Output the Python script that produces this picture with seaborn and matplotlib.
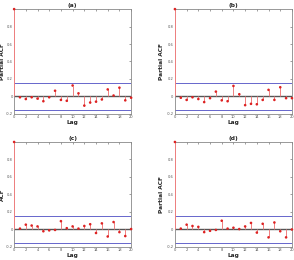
import numpy as np
import pandas as pd
import seaborn as sns
import matplotlib
matplotlib.use("Agg")
import matplotlib.pyplot as plt

# valores (lag 0 = 1)
lags = list(range(0, 21))
pacf_a = [1.0, -0.01, -0.03, -0.01, -0.025, -0.055, -0.01, 0.065, -0.04, -0.05, 0.125,
          0.035, -0.105, -0.07, -0.06, -0.035, 0.08, 0.01, 0.10, -0.045, -0.015]
pacf_b = [1.0, -0.015, -0.04, -0.01, -0.03, -0.065, -0.02, 0.055, -0.045, -0.055, 0.12,
          0.025, -0.10, -0.085, -0.09, -0.04, 0.075, -0.04, 0.105, -0.02, -0.02]
acf_c = [1.0, 0.01, 0.055, 0.045, 0.035, -0.02, -0.01, -0.005, 0.095, 0.015, 0.035,
         0.01, 0.04, 0.06, -0.04, 0.07, -0.08, 0.085, -0.03, -0.075, 0.005]
pacf_d = [1.0, 0.01, 0.055, 0.04, 0.03, -0.03, -0.015, -0.005, 0.10, 0.01, 0.02,
          0.005, 0.035, 0.075, -0.035, 0.065, -0.09, 0.08, -0.02, -0.09, 0.0]
limite = 0.155

paneles = [("(a)", "Partial ACF", pacf_a),
           ("(b)", "Partial ACF", pacf_b),
           ("(c)", "ACF", acf_c),
           ("(d)", "Partial ACF", pacf_d)]

sns.set_style("white")
plt.rcParams["font.family"] = ["DejaVu Sans"]

fig = plt.figure(figsize=(2.94, 2.60), dpi=100)
posiciones = [[0.048, 0.562, 0.398, 0.403],
              [0.595, 0.562, 0.398, 0.403],
              [0.048, 0.050, 0.398, 0.404],
              [0.595, 0.050, 0.398, 0.404]]
pos_etiqueta = [-0.075, -0.095, -0.075, -0.095]

for (titulo, etiqueta, valores), pos, xe in zip(paneles, posiciones, pos_etiqueta):
    ax = fig.add_axes(pos)
    df = pd.DataFrame({"Lag": lags, "valor": valores})
    ax.axhline(limite, color="#6666cc", lw=0.7, zorder=1)
    ax.axhline(-limite, color="#6666cc", lw=0.7, zorder=1)
    ax.axhline(0, color="#555555", lw=1.0, zorder=2)
    ax.vlines(df["Lag"], 0, df["valor"], color="#f08080", lw=0.7, zorder=3)
    sns.scatterplot(data=df, x="Lag", y="valor", ax=ax, color="#dd2222",
                    s=3.5, edgecolor="none", zorder=4, clip_on=False)
    ax.set_xlim(0, 20)
    ax.set_ylim(-0.2, 1.0)
    ax.set_xticks(range(0, 21, 2))
    ax.set_yticks([-0.2, 0, 0.2, 0.4, 0.6, 0.8])
    ax.set_yticklabels(["-0.2", "0", "0.2", "0.4", "0.6", "0.8"])
    ax.tick_params(labelsize=2.6, length=1.2, width=0.4, direction="in",
                   top=True, right=True, pad=1, colors="#555555")
    for s in ax.spines.values():
        s.set_color("#888888")
        s.set_linewidth(0.6)
    ax.set_xlabel("Lag", fontsize=4.2, fontweight="bold", labelpad=0.5)
    ax.set_ylabel(etiqueta, fontsize=4.2, fontweight="bold")
    ax.yaxis.set_label_coords(xe, 0.5)
    ax.set_title(titulo, fontsize=4.2, fontweight="bold", pad=1.5)

fig.savefig("out.png", dpi=100)
